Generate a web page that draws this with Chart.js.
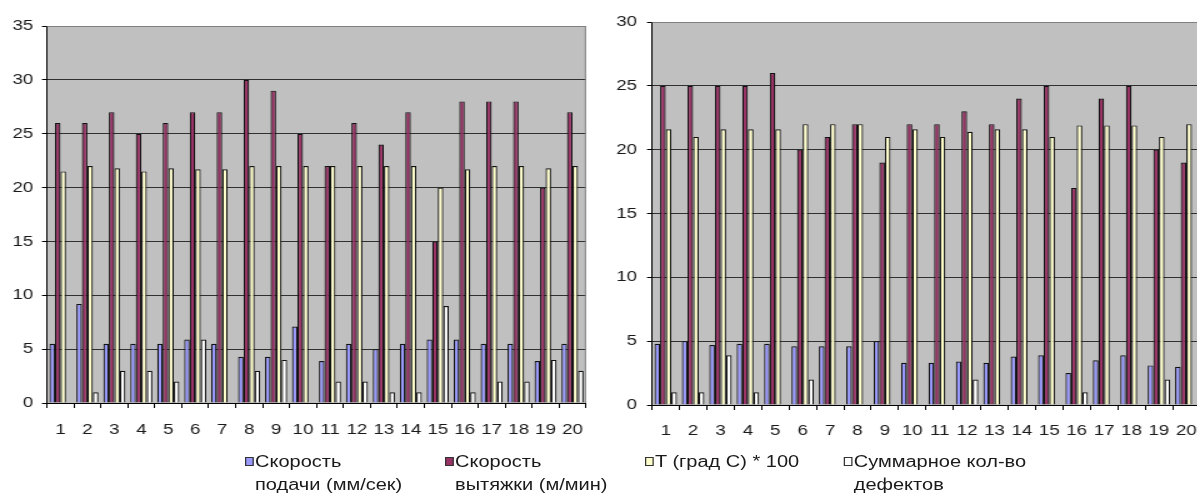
<!DOCTYPE html>
<html>
<head>
<meta charset="utf-8">
<title>Скорость подачи и вытяжки</title>
<script src="https://cdn.jsdelivr.net/npm/chart.js@4"></script>
<style>
  html, body { margin: 0; padding: 0; background: #fff; overflow: hidden; width: 1197px; height: 495px; }
  #wrap { position: absolute; left: 0; top: 0; width: 960px; height: 495px; transform: scaleX(1.25); transform-origin: 0 0; }
  canvas { position: absolute; top: 0; }
  .lg { position: absolute; font: 16px "Liberation Sans", Arial, sans-serif; color: #1a1a1a; line-height: 23px; white-space: nowrap; }
  .sq { position: absolute; width: 5px; height: 7px; border: 1px solid #333; }
</style>
</head>
<body>
<div id="wrap">
  <canvas id="left" width="480" height="440" style="left:0"></canvas>
  <canvas id="right" width="492" height="440" style="left:480px"></canvas>

  <div class="sq" style="left:196px; top:457px; background:#9999FF"></div>
  <div class="lg" style="left:204px; top:450px">Скорость<br>подачи (мм/сек)</div>
  <div class="sq" style="left:356px; top:457px; background:#993366"></div>
  <div class="lg" style="left:364px; top:450px">Скорость<br>вытяжки (м/мин)</div>
  <div class="sq" style="left:516px; top:457px; background:#FFFFCC"></div>
  <div class="lg" style="left:524px; top:450px">T (град С) * 100</div>
  <div class="sq" style="left:675px; top:457px; background:#FFFFFF"></div>
  <div class="lg" style="left:683px; top:450px">Суммарное кол-во<br>дефектов</div>
</div>
<script>
const categories = ['1', '2', '3', '4', '5', '6', '7', '8', '9', '10',
  '11', '12', '13', '14', '15', '16', '17', '18', '19', '20'];

// left chart
const feedLeft = [5.5, 9.2, 5.5, 5.5, 5.5, 5.9, 5.5, 4.3, 4.3, 7.1, 3.9, 5.5, 5.0, 5.5, 5.9, 5.9, 5.5, 5.5, 3.9, 5.5];
const drawLeft = [26, 26, 27, 25, 26, 27, 27, 30, 29, 25, 22, 26, 24, 27, 15, 28, 28, 28, 20, 27];
const tempLeft = [21.5, 22, 21.8, 21.5, 21.8, 21.7, 21.7, 22, 22, 22, 22, 22, 22, 22, 20, 21.7, 22, 22, 21.8, 22];
const defectsLeft = [0, 1, 3, 3, 2, 5.9, 0, 3, 4, 0, 2, 2, 1, 1, 9, 1, 2, 2, 4, 3];

// right chart
const feedRight = [4.8, 5.0, 4.7, 4.8, 4.8, 4.6, 4.6, 4.6, 5.0, 3.3, 3.3, 3.4, 3.3, 3.8, 3.9, 2.5, 3.5, 3.9, 3.1, 3.0];
const drawRight = [25, 25, 25, 25, 26, 20, 21, 22, 19, 22, 22, 23, 22, 24, 25, 17, 24, 25, 20, 19];
const tempRight = [21.6, 21, 21.6, 21.6, 21.6, 22, 22, 22, 21, 21.6, 21, 21.4, 21.6, 21.6, 21, 21.9, 21.9, 21.9, 21, 22];
const defectsRight = [1, 1, 3.9, 1, 0, 2, 0, 0, 0, 0, 0, 2, 0, 0, 0, 1, 0, 0, 2, 0];

const seriesNames = ['Скорость подачи (мм/сек)', 'Скорость вытяжки (м/мин)', 'T (град С) * 100', 'Суммарное кол-во дефектов'];
const seriesColors = ['#9999FF', '#993366', '#FFFFCC', '#FFFFFF'];

Chart.defaults.font.family = '"Liberation Sans", Arial, sans-serif';
Chart.defaults.font.size = 15;
Chart.defaults.color = '#1a1a1a';

// gray plot area like excel
const plotBg = {
  id: 'plotBg',
  beforeDraw(chart) {
    const { ctx, chartArea: a } = chart;
    ctx.save();
    ctx.fillStyle = '#C0C0C0';
    ctx.fillRect(a.left, a.top, a.right - a.left, a.bottom - a.top);
    ctx.restore();
  },
  afterDraw(chart) {
    const { ctx, chartArea: a } = chart;
    ctx.save();
    ctx.strokeStyle = '#808080';
    ctx.lineWidth = 1;
    ctx.beginPath();
    ctx.moveTo(a.left, a.top + 0.5);
    ctx.lineTo(a.right - 0.5, a.top + 0.5);
    ctx.lineTo(a.right - 0.5, a.bottom);
    ctx.stroke();
    ctx.restore();
  }
};

function makeChart(id, series, max, yWidth, xHeight, padTop, padRight, xPad, yPad) {
  const ctx = document.getElementById(id).getContext('2d');
  return new Chart(ctx, {
    type: 'bar',
    data: {
      labels: categories,
      datasets: series.map((values, i) => ({
        label: seriesNames[i],
        data: values,
        backgroundColor: seriesColors[i],
        borderColor: '#111',
        borderWidth: 1.2,
        borderSkipped: 'bottom',
        categoryPercentage: 0.82,
        barPercentage: 1.0
      }))
    },
    options: {
      responsive: false,
      animation: false,
      layout: { padding: { top: padTop, right: padRight, left: 0, bottom: 0 } },
      plugins: { legend: { display: false }, tooltip: { enabled: false } },
      scales: {
        x: {
          grid: { display: true, drawOnChartArea: false, drawTicks: true, tickLength: 5, offset: true, color: '#000' },
          border: { color: '#000' },
          ticks: { padding: xPad, maxRotation: 0, autoSkip: false },
          afterFit: (s) => { s.height = xHeight; }
        },
        y: {
          min: 0,
          max: max,
          grid: {
            color: (c) => (c.tick && c.tick.value === max ? '#808080' : '#303030'),
            tickColor: '#000',
            tickLength: 4
          },
          border: { color: '#000' },
          ticks: { stepSize: 5, padding: yPad },
          afterFit: (s) => { s.width = yWidth; }
        }
      }
    },
    plugins: [plotBg]
  });
}

makeChart('left', [feedLeft, drawLeft, tempLeft, defectsLeft], 35, 37.6, 37, 26, 11.2, 13, 7);
makeChart('right', [feedRight, drawRight, tempRight, defectsRight], 30, 41.6, 35, 22, 12, 12, 8);
</script>
</body>
</html>
